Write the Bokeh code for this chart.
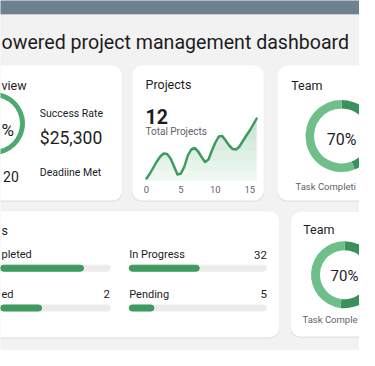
import math
from bokeh.plotting import figure
from bokeh.models import Range1d, BoxAnnotation, ColumnDataSource
from bokeh.core.properties import value
from bokeh.embed import file_html
from bokeh.resources import INLINE

# ---------------- data ----------------
title_text = "owered project management dashboard"

overview_title = "view"
overview_pct = "%"
overview_stat_labels = ["Success Rate", "Deadiine Met"]
overview_revenue = "$25,300"
overview_deadline = "20"

projects_title = "Projects"
projects_total = "12"
projects_sub = "Total Projects"
proj_x = [0, 0.5, 1, 1.5, 2, 2.5, 3, 3.5, 4, 4.5, 5, 5.5, 6, 6.5, 7, 7.5, 8,
          8.5, 9, 9.5, 10, 10.5, 11, 11.5, 12, 12.5, 13, 13.5, 14, 14.5, 15, 15.5, 16]
proj_y = [0.4, 1.4, 2.6, 3.8, 4.8, 5.4, 5.3, 4.4, 2.8, 1.2, 1.4, 2.8, 5.0, 6.2, 6.5, 5.8, 4.7,
          3.7, 4.2, 6.0, 7.6, 8.8, 8.9, 8.0, 7.0, 6.3, 6.2, 6.8, 7.9, 9.0, 10.0, 11.2, 12.4]
proj_ticks = [0, 5, 10, 15]

team_titles = ["Team", "Team"]
team_pct = ["70%", "70%"]
team_sub = ["Task Completi", "Task Comple"]
team_dark_frac = [0.44, 0.52]

status_title = "s"
status_left_labels = ["pleted", "ed"]
status_left_counts = ["", "2"]
status_left_frac = [0.80, 0.49]
status_right_labels = ["In Progress", "Pending"]
status_right_counts = ["32", "5"]
status_right_frac = [0.51, 0.18]

# ---------------- styling ----------------
FONT = value("Roboto")
DARK = "#1d1d1f"
GRAY = "#5f6368"
GREEN = "#3f9a60"
GREEN_LIGHT = "#6fbf8b"
GREEN_DARK = "#3a915c"
TRACK = "#ebebeb"
BG = "#f2f2f2"

W, H = 359, 350
X0, Y0 = 0, 0

p = figure(width=W, height=H, x_range=Range1d(X0, X0 + W), y_range=Range1d(Y0 + H, Y0),
           output_backend="svg", toolbar_location=None,
           x_axis_location=None, y_axis_location=None, min_border=0,
           background_fill_color=BG, border_fill_color=BG, outline_line_color=None)
p.grid.visible = False


def xr(pa, va, pb, vb):
    s = (vb - va) / (pb - pa)
    return Range1d(start=va + (X0 - pa) * s, end=va + (X0 + W - pa) * s)


def yr(pa, va, pb, vb):
    s = (vb - va) / (pb - pa)
    return Range1d(start=va + (Y0 + H - pa) * s, end=va + (Y0 - pa) * s)


def box(l, r, t, b, color, alpha=1.0, radius=0):
    p.add_layout(BoxAnnotation(left=l, right=r, top=t, bottom=b, fill_color=color,
                               fill_alpha=alpha, line_color=None, border_radius=radius,
                               level="underlay"))


def txt(x, y, s, size, color=DARK, align="left", style="normal", **kw):
    dy = 1.5 + 0.15 * float(size.replace("px", ""))
    p.text(x=[x], y=[y - dy], text=[s], text_font=FONT, text_font_size=size,
           text_color=color, text_align=align, text_baseline="alphabetic",
           text_font_style=style, **kw)


# bands
box(-20, 400, -20, 13.5, "#6e818f")
box(-20, 400, 13.5, 14.5, "#c9d0d5")

# cards
cards = [(-30, 121.7, 65, 200), (131.7, 263.3, 65, 200), (277, 420, 65, 200),
         (-30, 279, 211, 336.7), (290, 420, 211.5, 336)]
for l, r, t, b in cards:
    box(l - 0.5, r + 0.5, t + 0.5, b + 1.5, "black", 0.05, 10)
for l, r, t, b in cards:
    box(l, r, t, b, "white", 1.0, 10)

# title
txt(1, 46.7, title_text, "19.6px")

# overview card
p.annulus(x=[-7], y=[123], inner_radius=27, outer_radius=31, color="#4caa6f")
txt(1, 134, overview_pct, "17px")
txt(1, 88.3, overview_title, "12.5px")
txt(39.3, 115.7, overview_stat_labels[0], "10.5px")
txt(39.3, 141.7, overview_revenue, "17.5px")
txt(39.3, 175, overview_stat_labels[1], "10.5px")
txt(18.3, 180, overview_deadline, "14px", align="right")

# projects card
txt(145, 87.7, projects_title, "12.5px")
txt(145, 120, projects_total, "19.5px", style="bold")
txt(145, 134, projects_sub, "10px", color=GRAY)

p.extra_x_ranges["chart"] = xr(146, 0, 249.3, 15)
p.extra_y_ranges["chart"] = yr(180, 0, 130, 10)
src = ColumnDataSource(dict(x=proj_x, y=proj_y, base=[0] * len(proj_x)))
p.varea(x="x", y1="base", y2="y", source=src, fill_color="#eef8f1",
        x_range_name="chart", y_range_name="chart")
# soft vertical gradient under the curve
for lvl in [2, 4, 6, 8, 10]:
    p.varea(x=proj_x, y1=[lvl] * len(proj_x), y2=[max(v, lvl) for v in proj_y],
            fill_color=GREEN, fill_alpha=0.04, x_range_name="chart", y_range_name="chart")
p.line(x="x", y="y", source=src, line_color=GREEN, line_width=2.5, line_join="round",
       line_cap="round", x_range_name="chart", y_range_name="chart")
p.text(x=proj_ticks, y=[-1.7] * len(proj_ticks), text=[str(t) for t in proj_ticks],
       text_font=FONT, text_font_size="9.5px", text_color=GRAY, text_align="center",
       text_baseline="alphabetic", x_range_name="chart", y_range_name="chart")

# team cards (donuts)
donuts = [dict(cx=341, cy=135.5, ro=36, ri=27.5, title=(290.7, 88.3), pct_y=142.5,
               pct_size="16px", sub=(295, 188.5)),
          dict(cx=344, cy=274.2, ro=33.5, ri=24.5, title=(302.7, 232.7), pct_y=279.5,
               pct_size="15px", sub=(302, 322.3))]
for i, d in enumerate(donuts):
    f = team_dark_frac[i]
    top = math.pi / 2
    p.annular_wedge(x=[d["cx"], d["cx"]], y=[d["cy"], d["cy"]],
                    inner_radius=d["ri"], outer_radius=d["ro"],
                    start_angle=[top - 2 * math.pi * f, top],
                    end_angle=[top, top + 2 * math.pi * (1 - f)],
                    color=[GREEN_DARK, GREEN_LIGHT], line_color=None)
    txt(d["title"][0], d["title"][1], team_titles[i], "12.5px")
    txt(d["cx"], d["pct_y"], team_pct[i], d["pct_size"], align="center")
    txt(d["sub"][0], d["sub"][1], team_sub[i], "9.5px", color=GRAY)

# status card
txt(1, 233.3, status_title, "12.5px")
p.extra_x_ranges["barL"] = xr(-25, 0, 110, 1)
p.extra_x_ranges["barR"] = xr(128.7, 0, 266, 1)
label_y = [257.3, 296.7]
bar_y = [267.7, 307.5]
ones = [1, 1]
zeros = [0, 0]
for rng, labels, counts, fracs, lx, rx in [
        ("barL", status_left_labels, status_left_counts, status_left_frac, 1, 109.5),
        ("barR", status_right_labels, status_right_counts, status_right_frac, 128.7, 266.5)]:
    p.hbar(y=bar_y, left=zeros, right=ones, height=6, color=TRACK, border_radius=3,
           x_range_name=rng)
    p.hbar(y=bar_y, left=zeros, right=fracs, height=6, color=GREEN, border_radius=3,
           x_range_name=rng)
    for j in range(2):
        txt(lx, label_y[j], labels[j], "11px")
        if counts[j]:
            txt(rx, label_y[j], counts[j], "11.5px", align="right")

open("out.html", "w").write(file_html(p, INLINE))
